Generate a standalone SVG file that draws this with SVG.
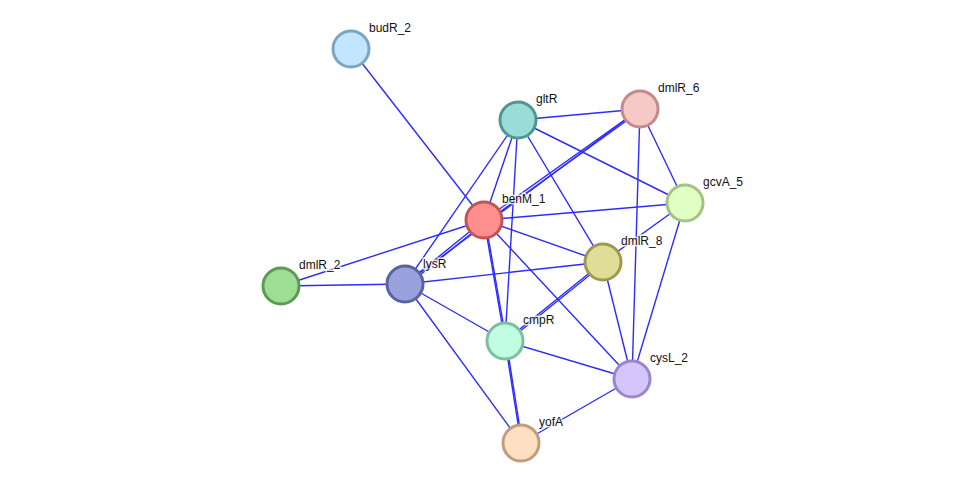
<svg xmlns="http://www.w3.org/2000/svg" width="975" height="488" viewBox="0 0 975 488">
<style>
.e{stroke:#2c2cff;stroke-width:1.4;fill:none}
.n{stroke-width:3}
.t{font-family:"Liberation Sans",Arial,sans-serif;font-size:12px;fill:#111;stroke:#fff;stroke-width:3;stroke-opacity:0.8;paint-order:stroke}
</style>
<rect width="975" height="488" fill="#fff"/>
<g id="edges">
<line class="e" x1="351" y1="49" x2="484" y2="220"/>
<line class="e" x1="518" y1="120" x2="640" y2="109"/>
<line class="e" x1="518" y1="120" x2="685" y2="203"/>
<line class="e" x1="518" y1="120" x2="603" y2="262"/>
<line class="e" x1="518" y1="120" x2="484" y2="220"/>
<line class="e" x1="518" y1="120" x2="405" y2="284"/>
<line class="e" x1="518" y1="120" x2="505" y2="341"/>
<line class="e" x1="640" y1="109" x2="484" y2="220"/>
<line class="e" x1="640" y1="111" x2="486" y2="222"/>
<line class="e" x1="640" y1="109" x2="405" y2="284"/>
<line class="e" x1="640" y1="109" x2="685" y2="203"/>
<line class="e" x1="640" y1="109" x2="632" y2="379"/>
<line class="e" x1="484" y1="220" x2="685" y2="203"/>
<line class="e" x1="484" y1="220" x2="603" y2="262"/>
<line class="e" x1="484" y1="220" x2="281" y2="286"/>
<line class="e" x1="484" y1="220" x2="405" y2="284"/>
<line class="e" x1="485.5" y1="222" x2="406.5" y2="286"/>
<line class="e" x1="484" y1="220" x2="632" y2="379"/>
<line class="e" x1="484" y1="220" x2="505" y2="341"/>
<line class="e" x1="485.2" y1="220" x2="506.2" y2="341"/>
<line class="e" x1="505" y1="341" x2="521" y2="443"/>
<line class="e" x1="506.2" y1="341" x2="522.2" y2="443"/>
<line class="e" x1="405" y1="284" x2="603" y2="262"/>
<line class="e" x1="405" y1="284" x2="281" y2="286"/>
<line class="e" x1="405" y1="284" x2="505" y2="341"/>
<line class="e" x1="405" y1="284" x2="521" y2="443"/>
<line class="e" x1="603" y1="262" x2="505" y2="341"/>
<line class="e" x1="604" y1="263.5" x2="506" y2="342.5"/>
<line class="e" x1="603" y1="262" x2="685" y2="203"/>
<line class="e" x1="603" y1="262" x2="632" y2="379"/>
<line class="e" x1="685" y1="203" x2="632" y2="379"/>
<line class="e" x1="505" y1="341" x2="632" y2="379"/>
<line class="e" x1="632" y1="379" x2="521" y2="443"/>
</g>
<g id="budR_2"><circle class="n" cx="351" cy="49" r="18" fill="#c1e6fd" stroke="#7aa6c2"/><text class="t" x="369" y="32">budR_2</text></g>
<g id="gltR"><circle class="n" cx="518" cy="120" r="18" fill="#99ddd6" stroke="#4f9690"/><text class="t" x="536" y="103">gltR</text></g>
<g id="dmlR_6"><circle class="n" cx="640" cy="109" r="18" fill="#f7c8c8" stroke="#c28a8a"/><text class="t" x="658" y="92">dmlR_6</text></g>
<g id="gcvA_5"><circle class="n" cx="685" cy="203" r="18" fill="#e1fec4" stroke="#a4c281"/><text class="t" x="703" y="186">gcvA_5</text></g>
<g id="benM_1"><circle class="n" cx="484" cy="220" r="18" fill="#ff8f8f" stroke="#c05555"/><text class="t" x="502" y="203">benM_1</text></g>
<g id="dmlR_8"><circle class="n" cx="603" cy="262" r="18" fill="#dfdd97" stroke="#9d9a50"/><text class="t" x="621" y="245">dmlR_8</text></g>
<g id="dmlR_2"><circle class="n" cx="281" cy="286" r="18" fill="#9edd94" stroke="#5c9a55"/><text class="t" x="299" y="269">dmlR_2</text></g>
<g id="lysR"><circle class="n" cx="405" cy="284" r="18" fill="#99a2df" stroke="#5a62a0"/><text class="t" x="423" y="268">lysR</text></g>
<g id="cmpR"><circle class="n" cx="505" cy="341" r="18" fill="#c1fde0" stroke="#7ebf9e"/><text class="t" x="523" y="324">cmpR</text></g>
<g id="cysL_2"><circle class="n" cx="632" cy="379" r="18" fill="#d4c5fd" stroke="#9a87c6"/><text class="t" x="650" y="362">cysL_2</text></g>
<g id="yofA"><circle class="n" cx="521" cy="443" r="18" fill="#fddfc1" stroke="#bf9e7e"/><text class="t" x="539" y="426">yofA</text></g>
</svg>
